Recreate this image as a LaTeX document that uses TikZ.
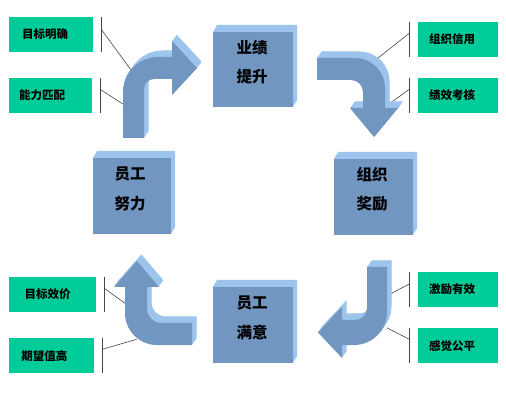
\documentclass[tikz,border=0pt]{standalone}
\usepackage{fontspec}
\newfontfamily\cjk{Noto Sans CJK SC}
\definecolor{front}{RGB}{113,150,192}
\definecolor{side}{RGB}{157,196,236}
\definecolor{gfill}{RGB}{0,204,153}
\definecolor{lead}{RGB}{70,70,70}
\newcommand\arrA{(123,138) -- (123,92) .. controls (123,72.7) and (138.7,57) .. (158,57) -- (172,57) -- (172,41) -- (197,68) -- (172,95) -- (172,79) -- (154,79) .. controls (148.5,79) and (144,83.5) .. (144,89) -- (144,138) -- cycle}
\newcommand\arrB{(317,58) -- (355,58) .. controls (371.6,58) and (385,71.4) .. (385,88) -- (385,108) -- (398,108) -- (374,137) -- (350,108) -- (363,108) -- (363,92) .. controls (363,85.4) and (357.6,80) .. (351,80) -- (317,80) -- cycle}
\newcommand\arrC{(367,267) -- (387,267) -- (387,312) .. controls (387,330.2) and (372.2,345) .. (354,345) -- (342,345) -- (342,358) -- (318,332.5) -- (342,307) -- (342,320) -- (355,320) .. controls (361.6,320) and (367,314.6) .. (367,308) -- cycle}
\newcommand\arrD{(192,323) -- (192,345) -- (157,345) .. controls (139.3,345) and (125,330.7) .. (125,313) -- (125,287) -- (114,287) -- (137,261) -- (159,287) -- (147,287) -- (147,309) .. controls (147,316.7) and (153.3,323) .. (161,323) -- cycle}
\begin{document}
\begin{tikzpicture}[x=1pt,y=-1pt,
  cube/.style={fill=front, minimum height=75pt, inner sep=0pt, outer sep=0pt},
  ctext/.style={font=\cjk\bfseries\fontsize{15.5}{15.5}\selectfont, inner sep=0pt, text=black},
  gbox/.style={fill=gfill, inner sep=0pt, outer sep=0pt},
  gtext/.style={font=\cjk\bfseries\fontsize{11.5}{12}\selectfont, inner sep=0pt, anchor=west, text=black},
  leader/.style={draw=lead, line width=0.6pt},
  sideface/.style={fill=side}]
\useasboundingbox (0,0) rectangle (506,403);
\fill[white] (0,0) rectangle (506,403);

% green boxes
\node[gbox, minimum width=83.4pt, minimum height=35.6pt] (g1) at (51,34.5) {};
\node[gtext] (g1t) at ([xshift=12.7pt]g1.west) {目标明确};
\node[gbox, minimum width=82.4pt, minimum height=35.6pt] (g2) at (50.5,95.5) {};
\node[gtext] (g2t) at ([xshift=9.7pt]g2.west) {能力匹配};
\node[gbox, minimum width=80pt, minimum height=35.6pt] (g3) at (457.7,39.5) {};
\node[gtext] (g3t) at ([xshift=11.3pt]g3.west) {组织信用};
\node[gbox, minimum width=80pt, minimum height=35.6pt] (g4) at (457.7,95.5) {};
\node[gtext] (g4t) at ([xshift=11.3pt]g4.west) {绩效考核};
\node[gbox, minimum width=80pt, minimum height=34.4pt] (g5) at (457.7,289.5) {};
\node[gtext] (g5t) at ([xshift=11.3pt]g5.west) {激励有效};
\node[gbox, minimum width=80pt, minimum height=35pt] (g6) at (457.7,345.8) {};
\node[gtext] (g6t) at ([xshift=11.3pt]g6.west) {感觉公平};
\node[gbox, minimum width=86.7pt, minimum height=35.6pt] (g7) at (52.7,294.5) {};
\node[gtext] (g7t) at ([xshift=15pt]g7.west) {目标效价};
\node[gbox, minimum width=84.7pt, minimum height=35pt] (g8) at (51.7,355.8) {};
\node[gtext] (g8t) at ([xshift=11.7pt]g8.west) {期望值高};

% leader lines
\coordinate (v1a) at (101,16.7);  \coordinate (v1b) at (101,52.3);
\coordinate (d1a) at (101,29);    \coordinate (d1b) at (131.7,71);
\coordinate (v2a) at (100,77.7);  \coordinate (v2b) at (100,113.3);
\coordinate (d2a) at (100,89.3);  \coordinate (d2b) at (123.3,104.3);
\coordinate (v3a) at (409.3,21.7); \coordinate (v3b) at (409.3,57.3);
\coordinate (d3a) at (409.3,33.3); \coordinate (d3b) at (373.3,61.7);
\coordinate (v4a) at (409.3,77.7); \coordinate (v4b) at (409.3,113.3);
\coordinate (d4a) at (409.3,89.3); \coordinate (d4b) at (390,103.3);
\coordinate (v5a) at (409.3,272.3); \coordinate (v5b) at (409.3,306.7);
\coordinate (d5a) at (409.3,284);   \coordinate (d5b) at (388.3,295);
\coordinate (v6a) at (409.3,328.3); \coordinate (v6b) at (409.3,363.3);
\coordinate (d6a) at (409.3,339.3); \coordinate (d6b) at (386.7,327.7);
\coordinate (v7a) at (104.3,276.7); \coordinate (v7b) at (104.3,312.3);
\coordinate (d7a) at (104.3,288.3); \coordinate (d7b) at (125,303.3);
\coordinate (v8a) at (102.3,338.3); \coordinate (v8b) at (102.3,373.3);
\coordinate (d8a) at (102.3,349.3); \coordinate (d8b) at (136.7,339.3);
\foreach \n in {1,...,8}{
  \draw[leader] (v\n a) -- (v\n b);
  \draw[leader] (d\n a) -- (d\n b);
}

% 3D arrows
\foreach \k in {1,...,13}{
  \fill[sideface, shift={(\k*0.35,-\k*0.5)}] \arrA;
  \fill[sideface, shift={(\k*0.35,-\k*0.5)}] \arrB;
  \fill[sideface, shift={(\k*0.35,-\k*0.5)}] \arrC;
  \fill[sideface, shift={(\k*0.35,-\k*0.5)}] \arrD;
}
\fill[front] \arrA;
\fill[front] \arrB;
\fill[front] \arrC;
\fill[front] \arrD;

% cubes
\node[cube, minimum width=80pt] (c1) at (253,69.5) {};
\node[cube, minimum width=78pt, minimum height=76pt] (c2) at (132,196) {};
\node[cube, minimum width=79pt, minimum height=76pt] (c3) at (373.5,197) {};
\node[cube, minimum width=80pt, minimum height=76pt] (c4) at (253,325) {};
\foreach \c in {c1,c2,c3,c4}{
  \fill[sideface] (\c.north west) -- ++(4,-7) -- ([shift={(4,-7)}]\c.north east) -- (\c.north east) -- cycle;
  \fill[sideface] (\c.north east) -- ++(4,-7) -- ([shift={(4,-7)}]\c.south east) -- (\c.south east) -- cycle;
}
\node[ctext] (c1a) at (252,48) {业绩};
\node[ctext] (c1b) at (252,77) {提升};
\node[ctext] (c2a) at (130,174) {员工};
\node[ctext] (c2b) at (130,204) {努力};
\node[ctext] (c3a) at (372,175) {组织};
\node[ctext] (c3b) at (372,204) {奖励};
\node[ctext] (c4a) at (252,303) {员工};
\node[ctext] (c4b) at (252,332) {满意};
\end{tikzpicture}
\end{document}
